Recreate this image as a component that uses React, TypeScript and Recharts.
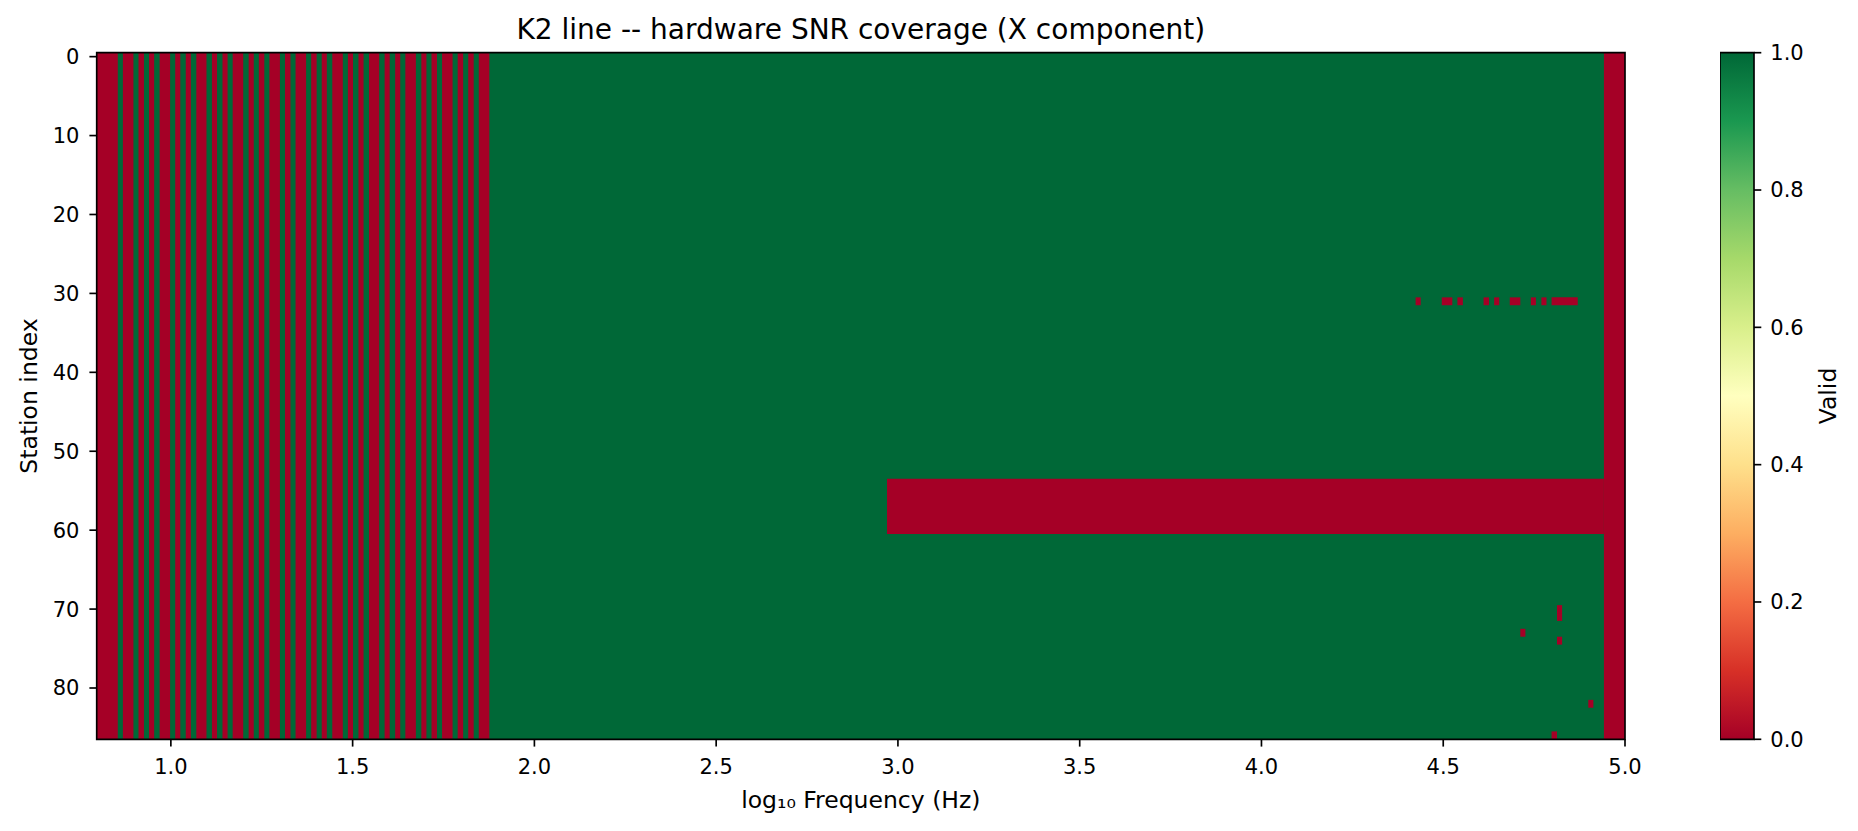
import React from 'react';
import { ComposedChart, XAxis, YAxis, ReferenceArea, Label } from 'recharts';

// ---------- data ----------
const chartTitle = 'K2 line -- hardware SNR coverage (X component)';
const xLabel = 'log₁₀ Frequency (Hz)';
const yLabel = 'Station index';
const colorbarLabel = 'Valid';

const freqDomain: [number, number] = [0.796, 5.0]; // log10 Hz extent of the image
const stationDomain: [number, number] = [-0.5, 86.5]; // 87 stations (0..86)
const colorDomain: [number, number] = [0, 1];

const xTicks = [1.0, 1.5, 2.0, 2.5, 3.0, 3.5, 4.0, 4.5, 5.0];
const yTicks = [0, 10, 20, 30, 40, 50, 60, 70, 80];
const colorbarTicks = [0.0, 0.2, 0.4, 0.6, 0.8, 1.0];

// frequency bands (log10 Hz) invalid for every station
const allStationGaps: [number, number][] = [
  [0.796, 0.854], [0.868, 0.897], [0.911, 0.926], [0.940, 0.954], [0.969, 0.998],
  [1.012, 1.026], [1.041, 1.055], [1.070, 1.098], [1.113, 1.127], [1.142, 1.156],
  [1.170, 1.199], [1.214, 1.228], [1.242, 1.257], [1.271, 1.300], [1.314, 1.329],
  [1.343, 1.372], [1.386, 1.401], [1.415, 1.429], [1.444, 1.473], [1.487, 1.501],
  [1.516, 1.530], [1.545, 1.573], [1.588, 1.602], [1.617, 1.631], [1.645, 1.674],
  [1.689, 1.703], [1.717, 1.732], [1.746, 1.775], [1.789, 1.804], [1.818, 1.833],
  [1.847, 1.876], [4.942, 5.0],
];

// block of stations invalid over a frequency range: [fromStation, toStation, fromFreq, toFreq]
const stationBlockGaps: [number, number, number, number][] = [
  [54, 60, 2.970, 4.942],
];

// isolated invalid cells: [station, fromFreq, toFreq]
const isolatedGaps: [number, number, number][] = [
  [31, 4.424, 4.438], [31, 4.496, 4.525], [31, 4.539, 4.554], [31, 4.611, 4.626],
  [31, 4.640, 4.654], [31, 4.683, 4.712], [31, 4.741, 4.755], [31, 4.770, 4.784],
  [31, 4.798, 4.870],
  [70, 4.813, 4.827], [71, 4.813, 4.827],
  [73, 4.712, 4.726], [74, 4.813, 4.827],
  [82, 4.899, 4.913],
  [86, 4.798, 4.813],
];

// ---------- styling ----------
const FONT = '"DejaVu Sans", sans-serif';
const VALID = '#006837';
const INVALID = '#a50026';
const rdylgnStops = [
  '#a50026', '#d73027', '#f46d43', '#fdae61', '#fee08b', '#ffffbf',
  '#d9ef8b', '#a6d96a', '#66bd63', '#1a9850', '#006837',
];
const tickStyle = { fill: '#000', fontSize: 21, fontFamily: FONT };
const tickLineStyle = { stroke: '#000', strokeWidth: 1.67 };
const LABEL_SIZE = 23.5;

export default function App() {
  const [xMin, xMax] = freqDomain;
  const [yMin, yMax] = stationDomain;
  return (
    <div style={{ position: 'absolute', left: 0, top: 0, width: 1858, height: 831, background: '#fff', overflow: 'hidden' }}>
      <div style={{ position: 'absolute', left: 0, top: 0 }}>
        <ComposedChart width={1858} height={831} margin={{ top: 52.7, right: 233, bottom: 0, left: 0 }}>
          <XAxis
            type="number"
            dataKey="x"
            domain={freqDomain}
            allowDataOverflow
            ticks={xTicks}
            interval={0}
            tickFormatter={(v: number) => v.toFixed(1)}
            height={91.7}
            tickSize={7.3}
            tickMargin={12}
            axisLine={false}
            tickLine={tickLineStyle}
            tick={tickStyle}
          >
            <Label
              content={() => (
                <text x={860.85} y={807.5} textAnchor="middle" fontSize={LABEL_SIZE} fontFamily={FONT} fill="#000">
                  {xLabel}
                </text>
              )}
            />
          </XAxis>
          <YAxis
            type="number"
            dataKey="y"
            domain={stationDomain}
            allowDataOverflow
            reversed
            ticks={yTicks}
            interval={0}
            width={96.7}
            tickSize={7.3}
            tickMargin={10}
            axisLine={false}
            tickLine={tickLineStyle}
            tick={tickStyle}
          >
            <Label
              content={() => (
                <text
                  x={37}
                  y={396}
                  transform="rotate(-90, 37, 396)"
                  textAnchor="middle"
                  fontSize={LABEL_SIZE}
                  fontFamily={FONT}
                  fill="#000"
                >
                  {yLabel}
                </text>
              )}
            />
          </YAxis>

          {/* valid background */}
          <ReferenceArea x1={xMin} x2={xMax} y1={yMin} y2={yMax} fill={VALID} fillOpacity={1} stroke="none" ifOverflow="visible" />

          {allStationGaps.map(([a, b], i) => (
            <ReferenceArea key={`all-${i}`} x1={a} x2={b} y1={yMin} y2={yMax} fill={INVALID} fillOpacity={1} stroke="none" ifOverflow="visible" />
          ))}

          {stationBlockGaps.map(([s0, s1, a, b], i) => (
            <ReferenceArea key={`blk-${i}`} x1={a} x2={b} y1={s0 - 0.5} y2={s1 + 0.5} fill={INVALID} fillOpacity={1} stroke="none" ifOverflow="visible" />
          ))}

          {isolatedGaps.map(([s, a, b], i) => (
            <ReferenceArea key={`cell-${i}`} x1={a} x2={b} y1={s - 0.5} y2={s + 0.5} fill={INVALID} fillOpacity={1} stroke="none" ifOverflow="visible" />
          ))}

          {/* frame */}
          <ReferenceArea x1={xMin} x2={xMax} y1={yMin} y2={yMax} fill="none" stroke="#000" strokeWidth={1.67} ifOverflow="visible" />
        </ComposedChart>
      </div>

      <div style={{ position: 'absolute', left: 1720, top: 0 }}>
        <ComposedChart width={138} height={831} margin={{ top: 52.7, right: 0, bottom: 91.7, left: 0 }}>
          <defs>
            <linearGradient id="rdylgn" x1="0" y1="1" x2="0" y2="0">
              {rdylgnStops.map((c, i) => (
                <stop key={i} offset={`${(i / (rdylgnStops.length - 1)) * 100}%`} stopColor={c} />
              ))}
            </linearGradient>
          </defs>
          <XAxis type="number" dataKey="x" domain={colorDomain} allowDataOverflow hide />
          <YAxis
            type="number"
            dataKey="v"
            orientation="right"
            domain={colorDomain}
            allowDataOverflow
            ticks={colorbarTicks}
            interval={0}
            tickFormatter={(v: number) => v.toFixed(1)}
            width={104}
            tickSize={7.3}
            tickMargin={9}
            axisLine={false}
            tickLine={tickLineStyle}
            tick={tickStyle}
          >
            <Label
              content={() => (
                <text
                  x={116}
                  y={396}
                  transform="rotate(-90, 116, 396)"
                  textAnchor="middle"
                  fontSize={LABEL_SIZE}
                  fontFamily={FONT}
                  fill="#000"
                >
                  {colorbarLabel}
                </text>
              )}
            />
          </YAxis>
          <ReferenceArea x1={0} x2={1} y1={0} y2={1} fill="url(#rdylgn)" fillOpacity={1} stroke="#000" strokeWidth={1.67} ifOverflow="visible" />
        </ComposedChart>
      </div>

      <svg width={1858} height={60} style={{ position: 'absolute', left: 0, top: 0, pointerEvents: 'none' }}>
        <text x={860.85} y={38.5} textAnchor="middle" fontSize={28} fontFamily={FONT} fill="#000">
          {chartTitle}
        </text>
      </svg>
    </div>
  );
}
